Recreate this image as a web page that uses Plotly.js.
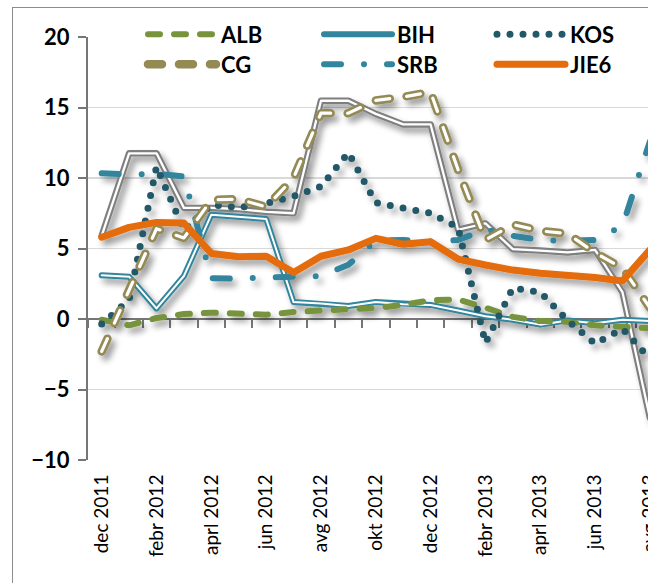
<!DOCTYPE html>
<html><head><meta charset="utf-8">
<script src="https://cdn.plot.ly/plotly-3.0.1.min.js"></script>
<style>
html,body{margin:0;padding:0;background:#fff;overflow:hidden;width:648px;height:583px;}
#frame{position:absolute;left:12px;top:7px;width:720px;height:600px;border:1px solid #8c8c8c;}
#chart{width:720px;height:600px;}
#chart .scatterlayer{filter:url(#lineshadow);}
#chart path.js-line{stroke-linecap:round;stroke-linejoin:round;}
</style></head><body>
<svg width="0" height="0" style="position:absolute">
  <defs>
    <filter id="lineshadow" x="-10%" y="-10%" width="130%" height="130%">
      <feGaussianBlur in="SourceAlpha" stdDeviation="3" result="blur"/>
      <feOffset in="blur" dx="4" dy="5" result="off"/>
      <feComponentTransfer in="off" result="shadow">
        <feFuncA type="linear" slope="0.4"/>
      </feComponentTransfer>
      <feMerge><feMergeNode in="shadow"/><feMergeNode in="SourceGraphic"/></feMerge>
    </filter>
  </defs>
</svg>
<div id="frame"><div id="chart"></div></div>
<script>
// month index: 0 = dec 2011 ... 20 = avg 2013
const monthIndex = [0,1,2,3,4,5,6,7,8,9,10,11,12,13,14,15,16,17,18,19,20];
const labelIndex = [0,2,4,6,8,10,12,14,16,18,20];
const tickLabels = ["dec 2011","febr 2012","aprl 2012","jun 2012","avg 2012","okt 2012","dec 2012","febr 2013","aprl 2013","jun 2013","avg 2013"];
const yTicks = [-10,-5,0,5,10,15,20];

const alb  = [-0.05,-0.45,0.07,0.35,0.45,0.4,0.3,0.5,0.65,0.7,0.78,1.0,1.33,1.38,0.8,0.15,-0.15,-0.2,-0.45,-0.6,-0.65];
const bih  = [3.1,3.0,0.75,3.05,7.4,7.25,7.1,1.2,1.1,0.92,1.2,1.05,1.0,0.6,0.2,-0.05,-0.4,-0.1,-0.3,-0.05,-0.15];
const kos  = [-0.35,1.35,10.8,6.3,8.1,7.9,8.2,8.7,9.4,11.8,8.25,7.9,7.5,6.5,-1.7,2.2,1.9,-0.1,-1.75,-0.7,-2.8];
const cg   = [-2.3,2.05,6.4,5.75,8.45,8.5,7.95,10.0,14.6,14.6,15.5,15.75,16.1,10.6,5.6,6.7,6.25,6.05,4.7,3.6,0.8];
const srb  = [10.33,10.25,10.3,10.1,2.9,2.85,2.95,2.98,3.05,3.85,5.55,5.6,5.5,5.6,6.35,5.9,5.6,5.55,5.6,6.6,12.6];
const jie6 = [5.8,6.5,6.85,6.8,4.65,4.42,4.45,3.3,4.45,4.9,5.72,5.3,5.48,4.25,3.83,3.47,3.24,3.12,2.95,2.7,4.9];
const mak  = [5.9,11.75,11.75,7.88,7.88,7.8,7.6,7.5,15.48,15.48,14.55,13.8,13.8,6.33,6.78,4.95,4.85,4.72,4.9,1.9,-7.0];

const W = 720, H = 600;
function ln(name, y, color, width, dash, legend, show){
  return {type:'scatter', mode:'lines', name:name, x:monthIndex, y:y,
    line:{color:color, width:width, dash:dash||'solid'}, legend:legend||'legend',
    showlegend:!!show, hoverinfo:'skip'};
}
const traces = [
  ln('MAK', mak, '#7f7f7f', 6.5, null, 'legend', false),
  ln('MAK', mak, '#ffffff', 2.3, null, 'legend', false),
  ln('BIH', bih, '#31859c', 6, null, 'legend2', true),
  ln('BIH', bih, '#ffffff', 2, null, 'legend2', false),
  ln('ALB', alb, '#77933c', 6, '12px,14px', 'legend', true),
  ln('SRB', srb, '#31859c', 6, '17px,23px,0px,23px', 'legend5', true),
  ln('KOS', kos, '#215968', 7, '0px,13px', 'legend3', true),
  ln('CG', cg, '#948a54', 8.5, '14px,17px', 'legend4', true),
  ln('CG', cg, '#ffffff', 3.2, '14px,17px', 'legend4', false),
  ln('JIE6', jie6, '#e46c0a', 7, null, 'legend6', true)
];

const legFont = {family:'Lato', size:22, weight:'bold', color:'#000'};
function leg(xAbs, yAbs){
  return {xref:'container', yref:'container', x:(xAbs-13)/W, y:1-(yAbs-8)/H,
    xanchor:'left', yanchor:'middle', orientation:'h', itemwidth:68,
    font:legFont, bgcolor:'rgba(0,0,0,0)', borderwidth:0};
}

const axGrey = '#767676';
const layout = {
  width:W, height:H, margin:{l:75, r:42.2, t:29, b:148, pad:0, autoexpand:false},
  paper_bgcolor:'#ffffff', plot_bgcolor:'rgba(0,0,0,0)', showlegend:true,
  xaxis:{range:[-0.5,21.5], anchor:'free', position:0.3333333, side:'bottom',
    tickmode:'array', tickvals:labelIndex, ticktext:tickLabels,
    tickangle:-90, ticks:'', showline:true, linecolor:axGrey, linewidth:2,
    showgrid:false, zeroline:false, automargin:false, layer:'below traces',
    minor:{tickmode:'linear', tick0:0.5, dtick:1, ticks:'outside', ticklen:8, tickwidth:2, tickcolor:axGrey, showgrid:false},
    tickfont:{family:'Lato', size:19, color:'#000'}, ticklabelstandoff:147},
  yaxis:{range:[-10,20], tickmode:'array', tickvals:yTicks, ticks:'outside', ticklen:8, tickwidth:2,
    tickcolor:axGrey, showline:true, linecolor:axGrey, linewidth:2, automargin:false,
    gridcolor:'#d9d9d9', gridwidth:1.5, zeroline:true, zerolinecolor:axGrey, zerolinewidth:2,
    tickfont:{family:'Lato', size:22, weight:'bold', color:'#000'}, ticklabelstandoff:4, layer:'below traces'},
  legend:leg(143,34.5), legend2:leg(319,34.5), legend3:leg(492,34.5),
  legend4:leg(143,64.5), legend5:leg(319,64.5), legend6:leg(492,64.5)
};

Plotly.newPlot('chart', traces, layout, {staticPlot:true, displayModeBar:false});
</script></body></html>
